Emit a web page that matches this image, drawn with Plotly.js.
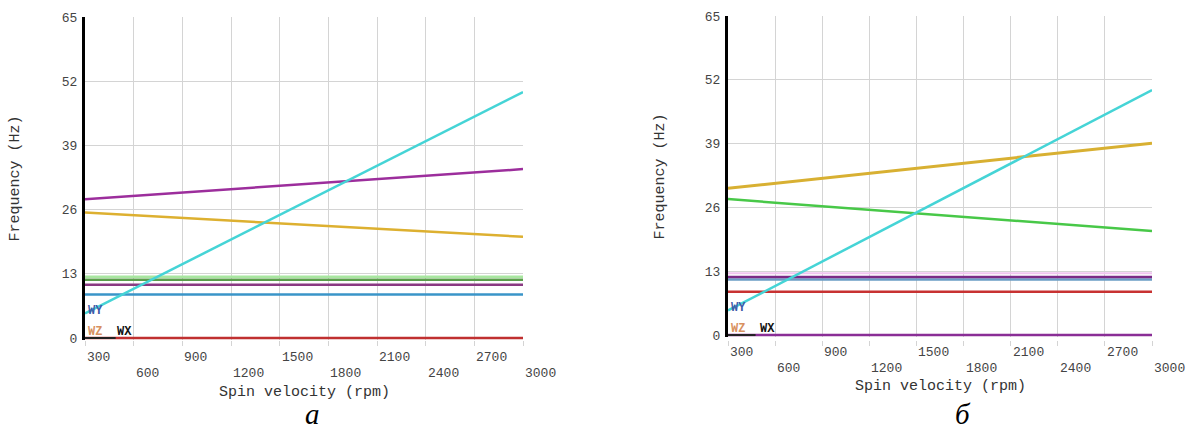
<!DOCTYPE html>
<html><head><meta charset="utf-8">
<script src="https://cdn.plot.ly/plotly-3.0.1.min.js"></script>
<style>html,body{margin:0;padding:0;background:#fff}</style>
</head><body><div id="chart" style="width:1188px;height:436px"></div>
<script>
// ---- data ----
const rpmEnds = [300, 3000];
const xTickVals = [300, 600, 900, 1200, 1500, 1800, 2100, 2400, 2700, 3000];
const xTickText = ["300", "600", "900", "1200", "1500", "1800", "2100", "2400", "2700", "3000"];
const yTickVals = [0, 13, 26, 39, 52, 65];
const yTickText = ["0", "13", "26", "39", "52", "65"];

// chart a
const a_excitation = [5.0, 49.8];
const a_mode_magenta = [28.1, 34.2];
const a_mode_yellow = [25.4, 20.5];
const a_mode_lightgreen = [12.4, 12.4];
const a_mode_green = [11.8, 11.8];
const a_mode_purple = [10.8, 10.8];
const a_mode_blue = [8.8, 8.8];
const a_mode_red = [0.0, 0.0];

// chart b
const b_excitation = [5.0, 49.9];
const b_mode_yellow = [29.9, 39.1];
const b_mode_green = [27.7, 21.2];
const b_mode_pink = [12.6, 12.6];
const b_mode_purple = [11.8, 11.8];
const b_mode_blue = [11.3, 11.3];
const b_mode_red = [8.8, 8.8];
const b_mode_zero = [0.0, 0.0];

const panelLabels = ["а", "б"];
const xTitle = "Spin velocity (rpm)";
const yTitle = "Frequency (Hz)";
const triadLabels = ["WY", "WZ", "WX"];

// ---- styling ----
const mono = "Liberation Mono, Courier New, monospace";
function tr(x, y, color, axis, w) {
  return {x: x, y: y, type: "scatter", mode: "lines", xaxis: axis === 1 ? "x" : "x2",
    yaxis: axis === 1 ? "y" : "y2", line: {color: color, width: w || 2.5}, hoverinfo: "skip", showlegend: false};
}
const traces = [
  tr(rpmEnds, a_mode_red, "#c03030", 1, 2.5),
  tr(rpmEnds, a_mode_blue, "#3a95c8", 1),
  tr(rpmEnds, a_mode_purple, "#8a3a82", 1),
  tr(rpmEnds, a_mode_green, "#5a9e4a", 1),
  tr(rpmEnds, a_mode_lightgreen, "#a8e6a0", 1),
  tr(rpmEnds, a_mode_yellow, "#ddb030", 1),
  tr(rpmEnds, a_mode_magenta, "#9c2e9c", 1),
  tr(rpmEnds, a_excitation, "#45d4d6", 1),

  tr(rpmEnds, b_mode_zero, "#8a2e96", 2),
  tr(rpmEnds, b_mode_red, "#c83232", 2),
  tr(rpmEnds, b_mode_pink, "#f0c4f0", 2, 2),
  tr(rpmEnds, b_mode_blue, "#6a9cc4", 2),
  tr(rpmEnds, b_mode_purple, "#7a2a86", 2),
  tr(rpmEnds, b_mode_green, "#48c848", 2),
  tr(rpmEnds, b_mode_yellow, "#d8b032", 2, 3),
  tr(rpmEnds, b_excitation, "#45d4d6", 2)
];

const W = 1188, H = 436;
// pixel boxes of plot areas
const boxA = {l: 85, r: 523, t: 17, b: 340};
const boxB = {l: 728, r: 1152, t: 16, b: 337};
function dom(b) {
  return {x: [b.l / W, b.r / W], y: [1 - b.b / H, 1 - b.t / H]};
}
const dA = dom(boxA), dB = dom(boxB);
const yRange = [-0.4, 65];

function xax(d) {
  return {domain: d.x, range: [300, 3000], tickvals: xTickVals, showticklabels: false,
    showgrid: true, gridcolor: "#d4d4d4", gridwidth: 1, zeroline: false, showline: false,
    ticks: "outside", ticklen: 5, tickcolor: "#d4d4d4", fixedrange: true};
}
function yax(d, anchor) {
  return {domain: d.y, range: yRange, tickvals: yTickVals, ticktext: yTickText,
    showgrid: true, gridcolor: "#d4d4d4", gridwidth: 1, zeroline: false,
    showline: true, linecolor: "#000", linewidth: 3, ticks: "", anchor: anchor,
    tickfont: {family: mono, size: 13, color: "#444"}, ticklabelstandoff: 2, fixedrange: true};
}

const annotations = [];
function addXLabels(xref, yBottom, row1, row2) {
  xTickVals.forEach((v, i) => {
    annotations.push({x: v, xref: xref, y: yBottom, yref: "paper", text: xTickText[i],
      xanchor: "left", yanchor: "middle", yshift: -(i % 2 === 0 ? row1 : row2),
      showarrow: false, font: {family: mono, size: 13, color: "#444"}});
  });
}
addXLabels("x", dA.y[0], 17, 33);
addXLabels("x2", dB.y[0], 15, 31);

function addTitles(d, box, yTitleX, xTitleY) {
  annotations.push({x: (d.x[0] + d.x[1]) / 2, xref: "paper", y: 1 - xTitleY / H, yref: "paper",
    text: xTitle, showarrow: false, xanchor: "center", yanchor: "middle",
    font: {family: mono, size: 15, color: "#333"}});
  annotations.push({x: yTitleX / W, xref: "paper", y: (d.y[0] + d.y[1]) / 2, yref: "paper",
    text: yTitle, showarrow: false, textangle: -90, xanchor: "center", yanchor: "middle",
    font: {family: mono, size: 15, color: "#333"}});
}
addTitles(dA, boxA, 15, 392);
addTitles(dB, boxB, 660, 386);

annotations.push({x: 312 / W, xref: "paper", y: 1 - 414 / H, yref: "paper", text: "<i>" + panelLabels[0] + "</i>",
  showarrow: false, xanchor: "center", yanchor: "middle", font: {family: "Liberation Serif, Times New Roman, serif", size: 29, color: "#000"}});
annotations.push({x: 963 / W, xref: "paper", y: 1 - 414 / H, yref: "paper", text: "<i>" + panelLabels[1] + "</i>",
  showarrow: false, xanchor: "center", yanchor: "middle", font: {family: "Liberation Serif, Times New Roman, serif", size: 29, color: "#000"}});

// triad labels
function addTriad(box) {
  const cols = ["#3d5aa8", "#d89060", "#111"];
  const pos = [[box.l + 1, box.b - 29], [box.l + 1, box.b - 8], [box.l + 30, box.b - 8]];
  triadLabels.forEach((t, i) => {
    annotations.push({x: pos[i][0] / W, xref: "paper", y: 1 - pos[i][1] / H, yref: "paper", text: "<b>" + t + "</b>",
      showarrow: false, xanchor: "left", yanchor: "middle", font: {family: mono, size: 12, color: cols[i]}});
  });
}
addTriad(boxA);
addTriad(boxB);

const shapes = [
  {type: "line", xref: "x domain", yref: "y", x0: 0, x1: 0.07, y0: 0, y1: 0, line: {color: "#222", width: 2}, layer: "above"},
  {type: "line", xref: "x2 domain", yref: "y2", x0: 0, x1: 0.065, y0: 0, y1: 0, line: {color: "#222", width: 2}, layer: "above"}
];

const layout = {
  width: W, height: H, margin: {l: 0, r: 0, t: 0, b: 0},
  paper_bgcolor: "#fff", plot_bgcolor: "#fff", showlegend: false, hovermode: false,
  xaxis: xax(dA), yaxis: yax(dA, "x"),
  xaxis2: xax(dB), yaxis2: yax(dB, "x2"),
  annotations: annotations, shapes: shapes
};
Plotly.newPlot("chart", traces, layout, {staticPlot: true, displayModeBar: false});
</script>
</body></html>
